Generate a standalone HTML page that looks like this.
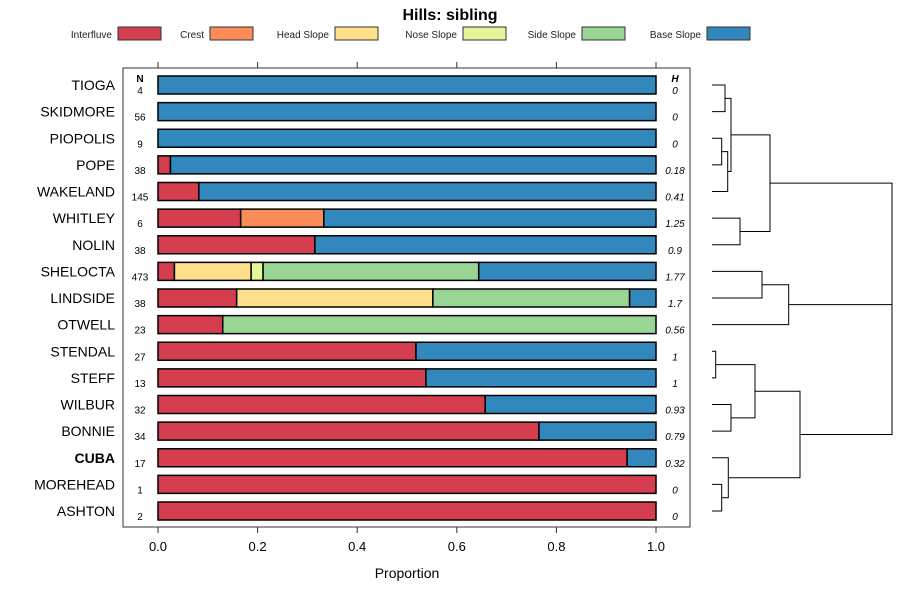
<!DOCTYPE html>
<html><head><meta charset="utf-8"><style>
body{margin:0;background:#fff}
svg{display:block;font-family:"Liberation Sans",sans-serif}
</style></head><body>
<svg id="chart" width="900" height="600">
<text x="450" y="20" text-anchor="middle" font-size="16" font-weight="bold">Hills: sibling</text>
<g id="legend"></g>
<rect x="123" y="68" width="567" height="459" fill="none" stroke="#333"/>
<g id="bars"></g>
<g id="axis"></g>
<text x="407" y="578" text-anchor="middle" font-size="14">Proportion</text>
<text x="140" y="82" text-anchor="middle" font-size="10" font-weight="bold">N</text>
<text x="675" y="82" text-anchor="middle" font-size="10" font-weight="bold" font-style="italic">H</text>
<g id="dendro" stroke="#000" fill="none" stroke-width="1"></g>
</svg>
<script>
const categories = ["TIOGA","SKIDMORE","PIOPOLIS","POPE","WAKELAND","WHITLEY","NOLIN","SHELOCTA","LINDSIDE","OTWELL","STENDAL","STEFF","WILBUR","BONNIE","CUBA","MOREHEAD","ASHTON"];
const seriesNames = ["Interfluve","Crest","Head Slope","Nose Slope","Side Slope","Base Slope"];
const interfluve = [0,0,0,0.025,0.082,0.166,0.315,0.033,0.158,0.130,0.518,0.538,0.657,0.765,0.942,1,1];
const crest      = [0,0,0,0,0,0.167,0,0,0,0,0,0,0,0,0,0,0];
const headSlope  = [0,0,0,0,0,0,0,0.154,0.394,0,0,0,0,0,0,0,0];
const noseSlope  = [0,0,0,0,0,0,0,0.024,0,0,0,0,0,0,0,0,0];
const sideSlope  = [0,0,0,0,0,0,0,0.433,0.395,0.870,0,0,0,0,0,0,0];
const baseSlope  = [1,1,1,0.975,0.918,0.667,0.685,0.356,0.053,0,0.482,0.462,0.343,0.235,0.058,0,0];
const nValues = [4,56,9,38,145,6,38,473,38,23,27,13,32,34,17,1,2];
const hValues = ["0","0","0","0.18","0.41","1.25","0.9","1.77","1.7","0.56","1","1","0.93","0.79","0.32","0","0"];
const xTicks = [0,0.2,0.4,0.6,0.8,1.0];
const xTickLabels = ["0.0","0.2","0.4","0.6","0.8","1.0"];
const colors = ["#d53e4f","#fc8d59","#fee08b","#e6f598","#99d594","#3288bd"];
(function(){
const NS="http://www.w3.org/2000/svg";
function mk(tag,attrs,parent){const e=document.createElementNS(NS,tag);for(const k in attrs)e.setAttribute(k,attrs[k]);parent.appendChild(e);return e;}
const xs = v => 158 + v*498;
const ys = i => 85 + i*26.625;
const series=[interfluve,crest,headSlope,noseSlope,sideSlope,baseSlope];
const bars=document.getElementById('bars');
categories.forEach((c,i)=>{
  let acc=0;
  series.forEach((s,k)=>{
    const v=s[i]; if(v<=0)return;
    const r=mk('rect',{x:xs(acc),y:ys(i)-9,width:xs(acc+v)-xs(acc),height:18,fill:colors[k],stroke:'#000','stroke-width':1.5},bars);
    
    
    acc+=v;
  });
  const t=mk('text',{x:115,y:ys(i)+5,'text-anchor':'end','font-size':14,'font-weight':c==='CUBA'?'bold':'normal'},bars);
  t.textContent=c;
  
  
  const n=mk('text',{x:140,y:ys(i)+9,'text-anchor':'middle','font-size':10},bars);
  n.textContent=nValues[i];
  
  
  const h=mk('text',{x:675,y:ys(i)+9,'text-anchor':'middle','font-size':10,'font-style':'italic'},bars);
  h.textContent=hValues[i];
  
  
});
const axis=document.getElementById('axis');
xTicks.forEach((t,i)=>{
  const l1=mk('line',{x1:xs(t),x2:xs(t),y1:527,y2:533,stroke:'#333'},axis);
  
  
  const l2=mk('line',{x1:xs(t),x2:xs(t),y1:62,y2:68,stroke:'#333'},axis);
  
  
  const tx=mk('text',{x:xs(t),y:551,'text-anchor':'middle','font-size':13},axis);
  tx.textContent=xTickLabels[i];
  
  
});
const legend=document.getElementById('legend');
const legRectX=[118,210,335,463,582,707];
seriesNames.forEach((s,k)=>{
  const t=mk('text',{x:legRectX[k]-6,y:38,'text-anchor':'end','font-size':10,fill:'#222'},legend);
  t.textContent=s;
  
  
  const r=mk('rect',{x:legRectX[k],y:27,width:43,height:13,fill:colors[k],stroke:'#333'},legend);
  
  
});
const dg=document.getElementById('dendro');
const L=712;
function node(y1,x1,y2,x2,xn){
  const p=mk('path',{d:`M${x1},${y1}H${xn}V${y2}H${x2}`},dg);
  
  
  return (y1+y2)/2;
}
const a=node(ys(0),L,ys(1),L,725);
const b=node(ys(2),L,ys(3),L,721.7);
const c2=node(b,721.7,ys(4),L,727.7);
const d=node(a,725,c2,727.7,731);
const e=node(ys(5),L,ys(6),L,740);
const topC=node(d,731,e,740,770);
const f=node(ys(7),L,ys(8),L,762);
const midC=node(f,762,ys(9),L,788.7);
const g=node(ys(10),L,ys(11),L,715.7);
const h=node(ys(12),L,ys(13),L,731);
const i2=node(g,715.7,h,731,755);
const j=node(ys(15),L,ys(16),L,721.7);
const k2=node(ys(14),L,j,721.7,728.3);
const botC=node(i2,755,k2,728.3,800);
node(topC,770,botC,800,892);
const m=mk('line',{x1:788.7,x2:892,y1:midC,y2:midC},dg);


})();
</script>
</body></html>
